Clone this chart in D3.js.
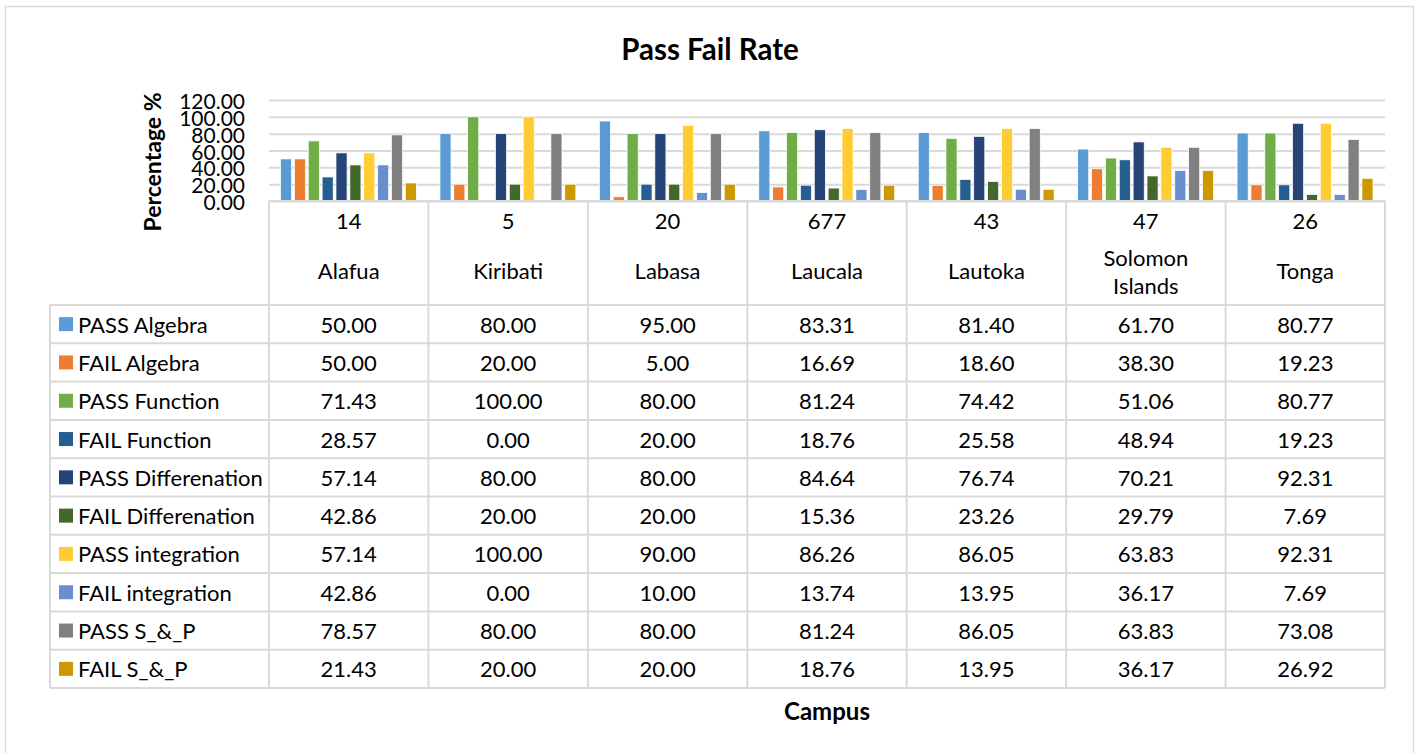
<!DOCTYPE html>
<html>
<head>
<meta charset="utf-8">
<script src="https://cdn.jsdelivr.net/npm/d3@7"></script>
<style>
body { margin: 0; background: #fff; }
text { font-family: Lato, "Open Sans", sans-serif; fill: #000; }
</style>
</head>
<body>
<svg id="chart" width="1421" height="753"></svg>
<script>
// DATA
var campuses = ['Alafua', 'Kiribati', 'Labasa', 'Laucala', 'Lautoka', 'Solomon Islands', 'Tonga'];
var campusCounts = ['14', '5', '20', '677', '43', '47', '26'];
var seriesNames = ['PASS Algebra', 'FAIL Algebra', 'PASS Function', 'FAIL Function', 'PASS Differenation',
    'FAIL Differenation', 'PASS integration', 'FAIL integration', 'PASS S_&_P', 'FAIL S_&_P'];
var seriesColors = ['#5b9bd5', '#ed7d31', '#70ad47', '#255e91', '#264478',
    '#43682b', '#ffcd33', '#698ed0', '#808080', '#cc9a00'];

var passAlgebra       = [50.00, 80.00, 95.00, 83.31, 81.40, 61.70, 80.77];
var failAlgebra       = [50.00, 20.00, 5.00, 16.69, 18.60, 38.30, 19.23];
var passFunction      = [71.43, 100.00, 80.00, 81.24, 74.42, 51.06, 80.77];
var failFunction      = [28.57, 0.00, 20.00, 18.76, 25.58, 48.94, 19.23];
var passDifferenation = [57.14, 80.00, 80.00, 84.64, 76.74, 70.21, 92.31];
var failDifferenation = [42.86, 20.00, 20.00, 15.36, 23.26, 29.79, 7.69];
var passIntegration   = [57.14, 100.00, 90.00, 86.26, 86.05, 63.83, 92.31];
var failIntegration   = [42.86, 0.00, 10.00, 13.74, 13.95, 36.17, 7.69];
var passSP            = [78.57, 80.00, 80.00, 81.24, 86.05, 63.83, 73.08];
var failSP            = [21.43, 20.00, 20.00, 18.76, 13.95, 36.17, 26.92];

var seriesValues = [passAlgebra, failAlgebra, passFunction, failFunction, passDifferenation,
    failDifferenation, passIntegration, failIntegration, passSP, failSP];
var yTicks = [0, 20, 40, 60, 80, 100, 120];

// LAYOUT
var gridColor = '#d9d9d9';
var plotLeft = 269, plotRight = 1385, plotTop = 100, plotBottom = 201;
var tableLeft = 50, rowsTop = 305, rowsBottom = 688;
var fontSize = 22;

var svg = d3.select('#chart');

// outer chart border
svg.append('rect')
    .attr('x', 5.5).attr('y', 6.5)
    .attr('width', 1408).attr('height', 760)
    .attr('fill', 'none').attr('stroke', gridColor).attr('stroke-width', 1.5);

var x0 = d3.scaleBand().domain(campuses).range([plotLeft, plotRight]);
var x1 = d3.scaleBand().domain(d3.range(seriesNames.length))
    .range([11.5, x0.bandwidth() - 12]).paddingInner(0.2);
var y = d3.scaleLinear().domain([0, 120]).range([plotBottom, plotTop]);
var rows = d3.scaleBand().domain(seriesNames).range([rowsTop, rowsBottom]);

// title
svg.append('text')
    .attr('x', 710).attr('y', 48)
    .attr('text-anchor', 'middle').attr('dominant-baseline', 'central')
    .style('font-size', '29.5px').style('font-weight', 'bold')
    .text('Pass Fail Rate');

// gridlines
svg.append('g')
    .attr('transform', 'translate(' + plotLeft + ',0)')
    .call(d3.axisLeft(y).tickValues(yTicks).tickSize(-(plotRight - plotLeft)).tickFormat(''))
    .call(function(g) { g.select('.domain').remove(); })
    .selectAll('line').attr('stroke', gridColor).attr('stroke-width', 2);

// y tick labels
var yAxis = svg.append('g')
    .attr('transform', 'translate(245,0)')
    .call(d3.axisLeft(y).tickValues(yTicks).tickSize(0).tickPadding(0).tickFormat(d3.format('.2f')));
yAxis.select('.domain').remove();
yAxis.selectAll('text')
    .attr('dy', null).attr('dominant-baseline', 'central')
    .style('font-size', '21px').style('font-family', 'Lato, sans-serif').attr('fill', '#000');

// y axis title
svg.append('text')
    .attr('transform', 'translate(152,162) rotate(-90)')
    .attr('text-anchor', 'middle').attr('dominant-baseline', 'central')
    .style('font-size', '23px').style('font-weight', 'bold')
    .text('Percentage %');

// bars
var groups = svg.append('g').selectAll('g')
    .data(campuses)
    .join('g')
    .attr('transform', function(d) { return 'translate(' + x0(d) + ',0)'; });

groups.selectAll('rect')
    .data(function(d, ci) {
        return seriesValues.map(function(vals, si) { return { s: si, v: vals[ci] }; });
    })
    .join('rect')
    .attr('x', function(d) { return x1(d.s); })
    .attr('width', x1.bandwidth())
    .attr('y', function(d) { return y(d.v); })
    .attr('height', function(d) { return y(0) - y(d.v); })
    .attr('fill', function(d) { return seriesColors[d.s]; })
    .attr('stroke', '#fff').attr('stroke-width', 0.75);

// data table lines
var lines = svg.append('g').attr('stroke', gridColor).attr('stroke-width', 2).attr('fill', 'none');
lines.append('line').attr('x1', plotLeft).attr('x2', plotRight).attr('y1', plotBottom).attr('y2', plotBottom);
campuses.forEach(function(c) {
    lines.append('line').attr('x1', x0(c)).attr('x2', x0(c)).attr('y1', plotBottom).attr('y2', rowsBottom);
});
lines.append('line').attr('x1', plotRight).attr('x2', plotRight).attr('y1', plotBottom).attr('y2', rowsBottom);
lines.append('line').attr('x1', tableLeft).attr('x2', tableLeft).attr('y1', rowsTop).attr('y2', rowsBottom);
seriesNames.forEach(function(s) {
    lines.append('line').attr('x1', tableLeft).attr('x2', plotRight).attr('y1', rows(s)).attr('y2', rows(s));
});
lines.append('line').attr('x1', tableLeft).attr('x2', plotRight).attr('y1', rowsBottom).attr('y2', rowsBottom);

// header: counts and campus names
var header = svg.append('g').style('font-size', fontSize + 'px');
campuses.forEach(function(c, i) {
    var cx = x0(c) + x0.bandwidth() / 2;
    header.append('text')
        .attr('x', cx).attr('y', 220)
        .attr('text-anchor', 'middle').attr('dominant-baseline', 'central')
        .text(campusCounts[i]);
    var parts = c === 'Solomon Islands' ? ['Solomon', 'Islands'] : [c];
    parts.forEach(function(p, k) {
        header.append('text')
            .attr('x', cx).attr('y', parts.length === 1 ? 270 : 257 + k * 28)
            .attr('text-anchor', 'middle').attr('dominant-baseline', 'central')
            .text(p);
    });
});

// rows: legend keys, names, values
var body = svg.append('g').style('font-size', fontSize + 'px');
seriesNames.forEach(function(s, si) {
    var cy = rows(s) + rows.bandwidth() / 2;
    body.append('rect')
        .attr('x', 59).attr('y', cy - 7)
        .attr('width', 14).attr('height', 14)
        .attr('fill', seriesColors[si]);
    body.append('text')
        .attr('x', 78).attr('y', cy)
        .attr('dominant-baseline', 'central')
        .text(s);
    campuses.forEach(function(c, ci) {
        body.append('text')
            .attr('x', x0(c) + x0.bandwidth() / 2).attr('y', cy)
            .attr('text-anchor', 'middle').attr('dominant-baseline', 'central')
            .text(seriesValues[si][ci].toFixed(2));
    });
});

// x axis title
svg.append('text')
    .attr('x', (plotLeft + plotRight) / 2).attr('y', 710)
    .attr('text-anchor', 'middle').attr('dominant-baseline', 'central')
    .style('font-size', '24px').style('font-weight', 'bold')
    .text('Campus');
</script>
</body>
</html>
